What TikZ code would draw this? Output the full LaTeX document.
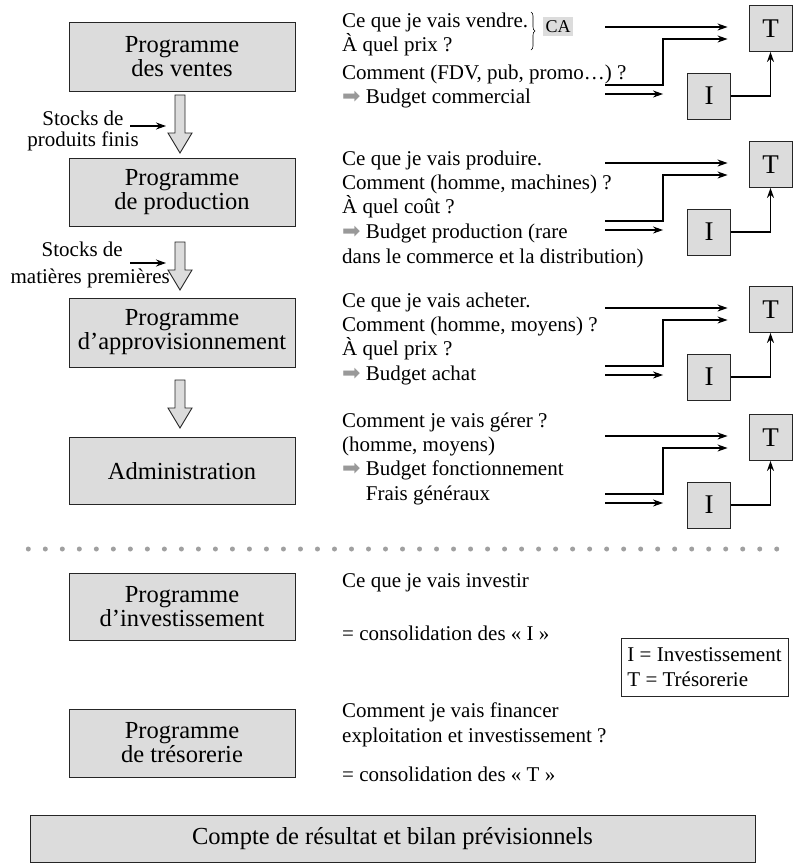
\documentclass[tikz,border=0pt]{standalone}
\usepackage{fontspec}
\setmainfont{Liberation Serif}
\newfontfamily\symfont{DejaVu Sans}
\usetikzlibrary{arrows.meta,decorations.pathreplacing}
\definecolor{boxgray}{HTML}{DCDCDC}
\definecolor{dotgray}{HTML}{A0A0A0}
\definecolor{symgray}{HTML}{999999}
\newcommand\budarrow{{\symfont\color{symgray}\fontsize{22}{22}\selectfont ➡}}
\begin{document}
\begin{tikzpicture}[x=1pt,y=-1pt,
  box/.style={draw=black!85, line width=0.9pt, fill=boxgray, minimum width=226pt, align=center,
              font=\fontsize{24.5}{24}\selectfont, inner sep=0pt},
  smallbox/.style={draw=black!85, line width=0.9pt, fill=boxgray, minimum width=43pt, minimum height=46pt,
              inner sep=0pt, font=\fontsize{27}{27}\selectfont},
  txt/.style={anchor=base west, inner sep=0pt, font=\fontsize{21}{24}\selectfont},
  lab/.style={inner sep=0pt, font=\fontsize{21}{21}\selectfont},
  arr/.style={line width=1.1pt, -{Stealth[length=10pt,width=7pt]}},
  blk/.style={draw=black!85, line width=0.9pt, fill=boxgray},
]
\useasboundingbox (0,0) rectangle (793,863);

% left boxes
\node[box, minimum height=69pt] (pv) at (182,56.5) {Programme\\des ventes};
\node[box, minimum height=68pt] (pp) at (182,192) {Programme\\de production};
\node[box, minimum height=69pt] (pa) at (182,332.5) {Programme\\d’approvisionnement};
\node[box, minimum height=67pt] (ad) at (182,471) {Administration};
\node[box, minimum height=67pt] (pi) at (182,606.5) {Programme\\d’investissement};
\node[box, minimum height=68pt] (pt) at (182,743) {Programme\\de trésorerie};
\node[box, minimum width=725pt, minimum height=47pt] (cr) at (392.5,838.5) {Compte de résultat et bilan prévisionnels};

% hollow block arrows
\foreach \t/\b in {95/153, 242/290, 380/428} {
  \pgfmathsetmacro\h{\b-20}
  \draw[blk] (175,\t) -- (185,\t) -- (185,\h) -- (192,\h) -- (180,\b) -- (168,\h) -- (175,\h) -- cycle;
}

% stock labels
\node[lab, anchor=base] (s1a) at (83,125) {Stocks de};
\node[lab, anchor=base] (s1b) at (83,146) {produits finis};
\coordinate (s1s) at (130,126);
\coordinate (s1e) at (166,126);
\draw[arr] (s1s) -- (s1e);
\node[lab, anchor=base east] (s2a) at (123,256) {Stocks de};
\node[lab, anchor=base east] (s2b) at (170,283) {matières premières};
\coordinate (s2s) at (130,263);
\coordinate (s2e) at (166,263);
\draw[arr] (s2s) -- (s2e);

% right texts
\node[txt] (t11) at (342,27) {Ce que je vais vendre.};
\node[txt] (t12) at (342,51) {À quel prix ?};
\node[txt] (t13) at (342,79) {Comment (FDV, pub, promo…) ?};
\node[txt] (t14) at (342,103) {\budarrow\ Budget commercial};
\draw[line width=0.6pt, decorate, decoration={brace, amplitude=4pt}] (531,12) -- (531,50);
\node[fill=boxgray, minimum width=30pt, minimum height=19pt, inner sep=0pt,
      font=\fontsize{18}{18}\selectfont] (ca) at (558,26.5) {CA};

\node[txt] (t21) at (342,165) {Ce que je vais produire.};
\node[txt] (t22) at (342,189) {Comment (homme, machines) ?};
\node[txt] (t23) at (342,213) {À quel coût ?};
\node[txt] (t24) at (342,238) {\budarrow\ Budget production (rare};
\node[txt] (t25) at (342,263) {dans le commerce et la distribution)};

\node[txt] (t31) at (342,307) {Ce que je vais acheter.};
\node[txt] (t32) at (342,331) {Comment (homme, moyens) ?};
\node[txt] (t33) at (342,355) {À quel prix ?};
\node[txt] (t34) at (342,380) {\budarrow\ Budget achat};

\node[txt] (t41) at (342,427) {Comment je vais gérer ?};
\node[txt] (t42) at (342,451) {(homme, moyens)};
\node[txt] (t43) at (342,475) {\budarrow\ Budget fonctionnement};
\node[txt] (t44) at (342,500) {\phantom{\budarrow\ }Frais généraux};

\node[txt] (t51) at (342,587) {Ce que je vais investir};
\node[txt] (t52) at (342,640) {= consolidation des « I »};
\node[txt] (t61) at (342,717) {Comment je vais financer};
\node[txt] (t62) at (342,742) {exploitation et investissement ?};
\node[txt] (t63) at (342,781) {= consolidation des « T »};

% I / T flows
\foreach \i/\o in {1/0, 2/136, 3/281, 4/409} {
  \node[smallbox] (T\i) at (770.5,28.5+\o) {T};
  \node[smallbox] (I\i) at (709,96+\o) {I};
  \coordinate (a\i) at (605,27+\o);
  \coordinate (b\i) at (605,85+\o);
  \coordinate (c\i) at (605,94+\o);
  \coordinate (k\i) at (663,39+\o);
  \draw[arr, shorten >=21pt] (a\i) -- (a\i -| T\i.west);
  \draw[arr, shorten >=21pt] (b\i) -| (k\i) -- (k\i -| T\i.west);
  \draw[arr, shorten >=24pt] (c\i) -- (c\i -| I\i.west);
  \draw[arr] (I\i.east) -| (T\i.south);
}

% dotted separator
\foreach \k in {0,...,44} \fill[dotgray] (28.3+\k*17.01,549) circle (2.5pt);

% legend
\node[draw=black!85, line width=0.9pt, minimum width=167pt, minimum height=58pt, align=left,
      inner xsep=5pt, font=\fontsize{21}{25}\selectfont] (leg) at (704.5,667) {I = Investissement\\T = Trésorerie};
\end{tikzpicture}
\end{document}
